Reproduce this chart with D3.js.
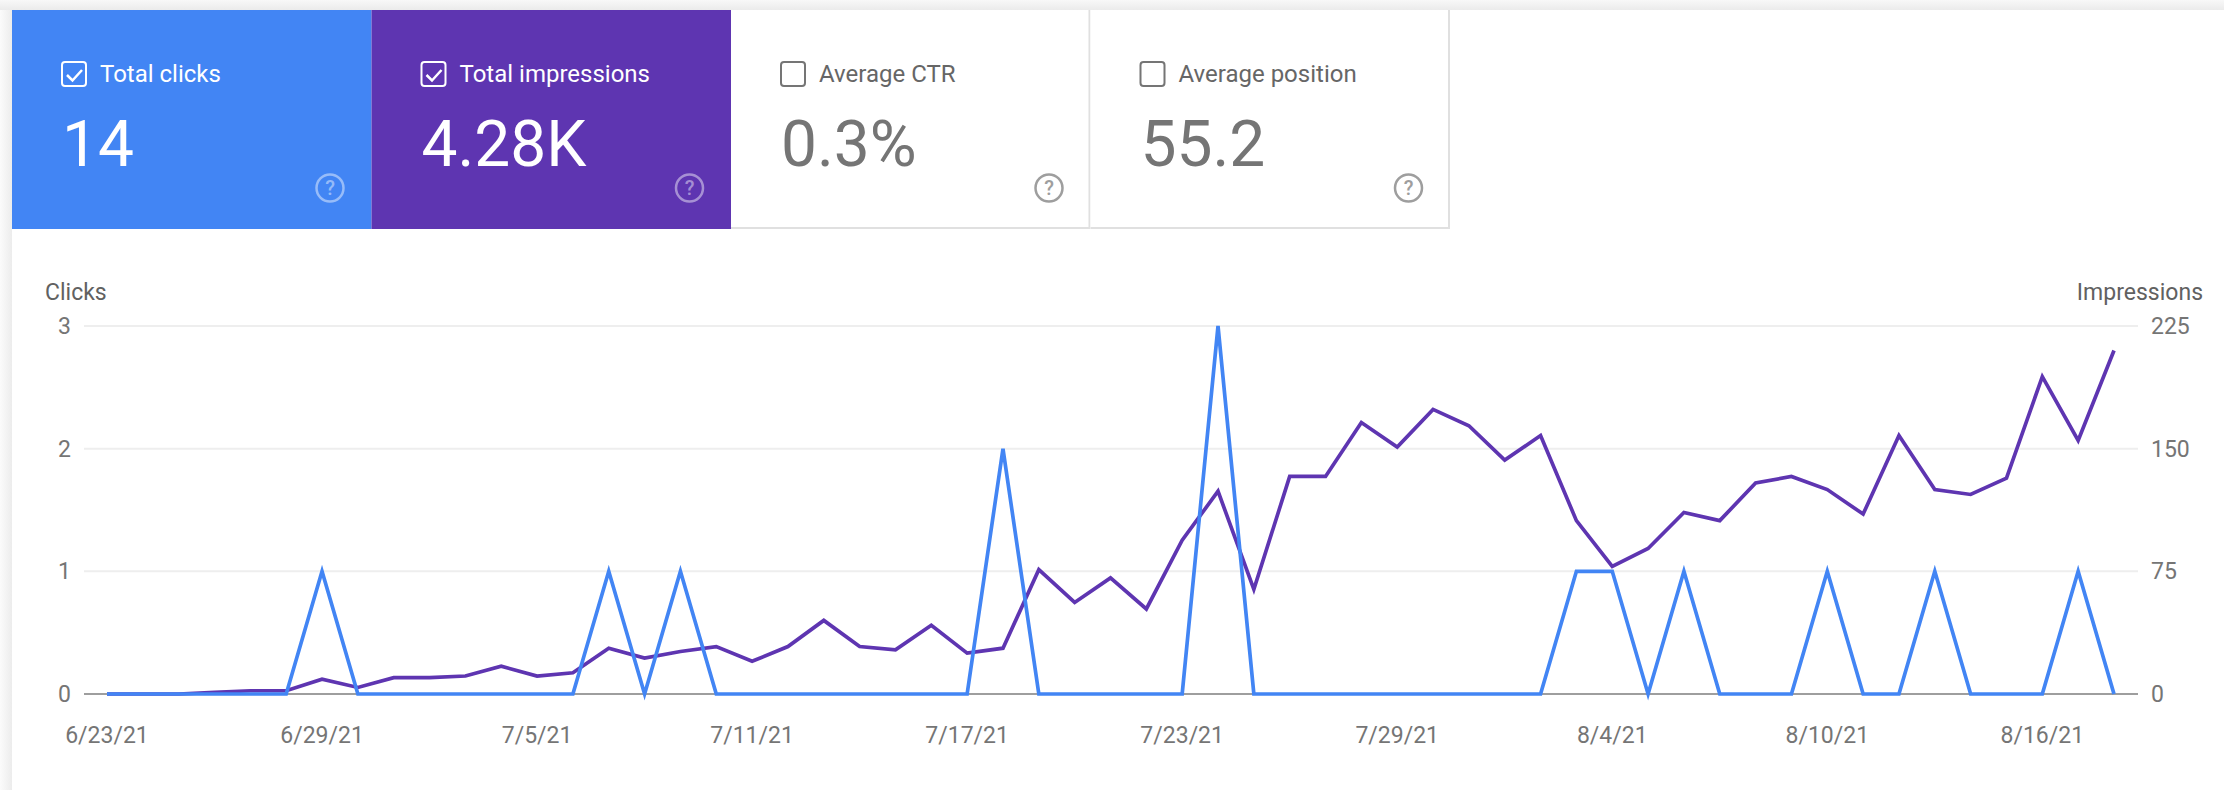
<!DOCTYPE html>
<html>
<head>
<meta charset="utf-8">
<script src="https://cdn.jsdelivr.net/npm/d3@7"></script>
<style>
  body { margin: 0; background: #fff; }
  svg { display: block; font-family: Roboto, "Noto Sans", sans-serif; }
</style>
</head>
<body>
<div id="chart"></div>
<script>
// summary cards
const cardLabels = ["Total clicks", "Total impressions", "Average CTR", "Average position"];
const cardValues = ["14", "4.28K", "0.3%", "55.2"];
const cardChecked = [true, true, false, false];

// daily series, 6/23/21 .. 8/18/21
const firstDay = "2021-06-23";
const lastDay = "2021-08-18";
const clicks = [0,0,0,0,0,0,1,0,0,0, 0,0,0,0,1,0,1,0,0,0, 0,0,0,0,0,2,0,0,0,0,
                0,3,0,0,0,0,0,0,0,0, 0,1,1,0,1,0,0,0,1,0, 0,1,0,0,0,1,0];
const impressions = [0,0,0,1,2,2,9,4,10,10, 11,17,11,13,28,22,26,29,20,29,
                     45,29,27,42,25,28,76,56,71,52, 94,124,64,133,133,166,151,174,164,143,
                     158,106,78,89,111,106,129,133,125,110, 158,125,122,132,194,155,210];
const clickTicks = [0, 1, 2, 3];
const impressionTicks = [0, 75, 150, 225];

const W = 2224, H = 790;
const blue = "#4285f4", purple = "#5e35b1";

const svg = d3.select("#chart").append("svg")
  .attr("width", W).attr("height", H);

// page background / panel shadow
const defs = svg.append("defs");
const topGrad = defs.append("linearGradient").attr("id", "topShade")
  .attr("x1", 0).attr("y1", 0).attr("x2", 0).attr("y2", 1);
topGrad.append("stop").attr("offset", "0%").attr("stop-color", "#f8f8f8");
topGrad.append("stop").attr("offset", "100%").attr("stop-color", "#ebebeb");
const leftGrad = defs.append("linearGradient").attr("id", "leftShade")
  .attr("x1", 0).attr("y1", 0).attr("x2", 1).attr("y2", 0);
leftGrad.append("stop").attr("offset", "0%").attr("stop-color", "#fbfbfb");
leftGrad.append("stop").attr("offset", "100%").attr("stop-color", "#ececec");

svg.append("rect").attr("x", 0).attr("y", 0).attr("width", W).attr("height", 10)
  .attr("fill", "url(#topShade)");
svg.append("rect").attr("x", 0).attr("y", 10).attr("width", 12).attr("height", H - 10)
  .attr("fill", "url(#leftShade)");

// ---- cards ----
const cardW = 359.5, cardH = 219, cardX0 = 12, cardY0 = 10;
const cards = svg.append("g").attr("class", "cards")
  .selectAll("g").data(cardLabels).join("g")
  .attr("transform", (d, i) => `translate(${cardX0 + i * cardW},${cardY0})`);

cards.append("rect")
  .attr("width", cardW).attr("height", cardH)
  .attr("fill", (d, i) => i === 0 ? blue : i === 1 ? purple : "#fff");

// borders of the unselected cards
cards.filter((d, i) => !cardChecked[i]).append("path")
  .attr("d", `M${cardW - 1},0 V${cardH - 1} H0`)
  .attr("fill", "none").attr("stroke", "#e0e0e0").attr("stroke-width", 2);

const fg = i => cardChecked[i] ? "#fff" : "#757575";

cards.append("rect")
  .attr("x", 50).attr("y", 52).attr("width", 24).attr("height", 24).attr("rx", 3)
  .attr("fill", "none").attr("stroke", (d, i) => fg(i)).attr("stroke-width", 2);

cards.filter((d, i) => cardChecked[i]).append("path")
  .attr("d", "M55,65 L60.5,70.5 L70,60")
  .attr("fill", "none").attr("stroke", "#fff").attr("stroke-width", 2.5);

cards.append("text")
  .attr("x", 88).attr("y", 72)
  .attr("font-size", 24)
  .attr("fill", (d, i) => cardChecked[i] ? "#fff" : "#666")
  .text(d => d);

cards.append("text")
  .data(cardValues)
  .attr("x", 50).attr("y", 156)
  .attr("font-size", 64)
  .attr("fill", (d, i) => fg(i))
  .text(d => d);

const help = cards.append("g").attr("transform", "translate(318,178)");
help.append("circle").attr("r", 13.5)
  .attr("fill", "none")
  .attr("stroke", (d, i) => cardChecked[i] ? "rgba(255,255,255,0.45)" : "#9e9e9e")
  .attr("stroke-width", 2.5);
help.append("text")
  .attr("text-anchor", "middle").attr("y", 7)
  .attr("font-size", 20).attr("font-weight", 500)
  .attr("fill", (d, i) => cardChecked[i] ? "rgba(255,255,255,0.45)" : "#9e9e9e")
  .text("?");

// ---- chart ----
const parse = d3.timeParse("%Y-%m-%d");
const days = d3.timeDay.range(parse(firstDay), d3.timeDay.offset(parse(lastDay), 1));
const rows = days.map((d, i) => ({date: d, clicks: clicks[i], impressions: impressions[i]}));

const x = d3.scaleTime().domain([days[0], days[days.length - 1]]).range([107, 2114]);
const yL = d3.scaleLinear().domain([0, 3]).range([694, 326]);
const yR = d3.scaleLinear().domain([0, 225]).range([694, 326]);

const chart = svg.append("g").attr("class", "chart");

// gridlines
chart.append("g").selectAll("line").data(clickTicks).join("line")
  .attr("x1", 84).attr("x2", 2138)
  .attr("y1", d => yL(d)).attr("y2", d => yL(d))
  .attr("stroke", d => d === 0 ? "#9e9e9e" : "#eeeeee")
  .attr("stroke-width", 2);

// left axis
chart.append("g").selectAll("text").data(clickTicks).join("text")
  .attr("x", 71).attr("y", d => yL(d)).attr("dy", "0.35em")
  .attr("text-anchor", "end").attr("font-size", 23).attr("fill", "#757575")
  .text(d => d);

// right axis
chart.append("g").selectAll("text").data(impressionTicks).join("text")
  .attr("x", 2151).attr("y", d => yR(d)).attr("dy", "0.35em")
  .attr("font-size", 23).attr("fill", "#757575")
  .text(d => d);

chart.append("text").attr("x", 45).attr("y", 300)
  .attr("font-size", 23).attr("fill", "#616161").text("Clicks");
chart.append("text").attr("x", 2203).attr("y", 300).attr("text-anchor", "end")
  .attr("font-size", 23).attr("fill", "#616161").text("Impressions");

// bottom axis
const fmt = d3.timeFormat("%-m/%-d/%y");
const xTicks = days.filter((d, i) => i % 6 === 0);
chart.append("g").selectAll("text").data(xTicks).join("text")
  .attr("x", d => x(d)).attr("y", 743)
  .attr("text-anchor", "middle").attr("font-size", 23).attr("fill", "#757575")
  .text(d => fmt(d));

// lines
chart.append("path").datum(rows)
  .attr("fill", "none").attr("stroke", purple).attr("stroke-width", 3.7)
  .attr("d", d3.line().x(d => x(d.date)).y(d => yR(d.impressions)));

chart.append("path").datum(rows)
  .attr("fill", "none").attr("stroke", blue).attr("stroke-width", 3.7)
  .attr("d", d3.line().x(d => x(d.date)).y(d => yL(d.clicks)));
</script>
</body>
</html>
